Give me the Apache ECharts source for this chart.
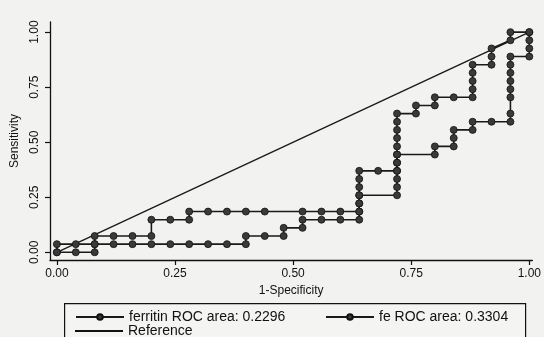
<!DOCTYPE html>
<html>
<head>
<meta charset="utf-8">
<script src="https://cdn.jsdelivr.net/npm/echarts@6/dist/echarts.min.js"></script>
<style>
html,body{margin:0;padding:0;background:#f2f2f0;}
#c{width:544px;height:337px;}
</style>
</head>
<body>
<div id="c"></div>
<script>
// Tick values
const xTicks = [0, 0.25, 0.5, 0.75, 1];
const yTicks = [0, 0.25, 0.5, 0.75, 1];

// ferritin ROC curve (1-Specificity, Sensitivity)
const ferritinX = [0,0,0.04,0.08,0.12,0.16,0.20,0.24,0.28,0.32,0.36,0.40,
  0.40,0.44,0.48, 0.48,0.52, 0.52,0.56,0.60,0.64,
  0.64,0.64,0.64,0.64,0.64,0.64, 0.68,0.72, 0.72,0.72, 0.80,0.80,
  0.84,0.84,0.84, 0.88,0.88, 0.92,0.96,
  0.96,0.96,0.96,0.96,0.96,0.96,0.96, 1,1,1,1];
const ferritinY = [0,0.037,0.037,0.037,0.037,0.037,0.037,0.037,0.037,0.037,0.037,0.037,
  0.074,0.074,0.074, 0.111,0.111, 0.148,0.148,0.148,0.148,
  0.185,0.222,0.259,0.296,0.333,0.370, 0.370,0.370, 0.407,0.444, 0.444,0.481,
  0.481,0.519,0.556, 0.556,0.593, 0.593,0.593,
  0.630,0.704,0.741,0.778,0.815,0.852,0.889, 0.889,0.926,0.963,1];

// fe ROC curve
const feX = [0,0.04,0.08, 0.08,0.08, 0.12,0.16,0.20, 0.20,0.24,0.28,
  0.28,0.32,0.36,0.40,0.44,0.52,0.56,0.60,0.64, 0.64,0.64,
  0.72,0.72,0.72,0.72,0.72,0.72,0.72,0.72,0.72,0.72,0.72,
  0.76,0.76, 0.80,0.80, 0.84,0.88, 0.88,0.88,0.88,0.88,
  0.92,0.92,0.92, 0.96,0.96, 1];
const feY = [0,0,0, 0.037,0.074, 0.074,0.074,0.074, 0.148,0.148,0.148,
  0.185,0.185,0.185,0.185,0.185,0.185,0.185,0.185,0.185, 0.222,0.259,
  0.259,0.296,0.333,0.370,0.407,0.444,0.481,0.519,0.556,0.593,0.630,
  0.630,0.667, 0.667,0.704, 0.704,0.704, 0.741,0.778,0.815,0.852,
  0.852,0.889,0.926, 0.963,1, 1];

// Reference diagonal
const refX = [0, 1];
const refY = [0, 1];

const zip = (a, b) => a.map((v, i) => [v, b[i]]);

const chart = echarts.init(document.getElementById('c'), null, {renderer: 'canvas'});
const font = 'Liberation Sans, Arial, sans-serif';
const lineCol = '#1a1a1a';
const markStyle = {color: '#3a3a3a', borderColor: '#111', borderWidth: 0.8};
const legText = {fontSize: 14, fontFamily: font, color: '#111'};

chart.setOption({
  backgroundColor: '#f2f2f0',
  animation: false,
  textStyle: {fontFamily: font, color: '#111'},
  grid: {left: 50, top: 22, width: 488, height: 238, containLabel: false},
  xAxis: {
    type: 'value', min: -0.0146, max: 1.0063,
    name: '1-Specificity', nameLocation: 'middle', nameGap: 22,
    nameTextStyle: {fontSize: 12, fontFamily: font, color: '#111'},
    axisLine: {show: true, onZero: false, lineStyle: {color: '#111', width: 1.3}},
    axisTick: {show: true, length: 5, customValues: xTicks, lineStyle: {color: '#111', width: 1.2}},
    axisLabel: {customValues: xTicks, fontSize: 12, fontFamily: font, color: '#111', margin: 8,
      formatter: v => v.toFixed(2)},
    splitLine: {show: false}
  },
  yAxis: {
    type: 'value', min: -0.035, max: 1.046,
    name: 'Sensitivity', nameLocation: 'middle', nameGap: 22,
    nameTextStyle: {fontSize: 12, fontFamily: font, color: '#111'},
    axisLine: {show: true, onZero: false, lineStyle: {color: '#111', width: 1.3}},
    axisTick: {show: true, length: 5, customValues: yTicks, lineStyle: {color: '#111', width: 1.2}},
    axisLabel: {customValues: yTicks, fontSize: 12, fontFamily: font, color: '#111', margin: 9,
      rotate: 90, formatter: v => v.toFixed(2)},
    splitLine: {show: false}
  },
  legend: [
    {data: ['ferritin ROC area: 0.2296'], left: 70, top: 305, itemWidth: 48, itemHeight: 7,
      itemGap: 0, textStyle: legText},
    {data: ['fe ROC area: 0.3304'], left: 320, top: 305, itemWidth: 48, itemHeight: 7,
      textStyle: legText},
    {data: [{name: 'Reference', icon: 'rect'}], left: 70, top: 319, itemWidth: 48, itemHeight: 2,
      itemStyle: {color: '#111', borderWidth: 0}, textStyle: legText}
  ],
  graphic: [{
    type: 'rect', left: 64, top: 303, shape: {width: 461, height: 40},
    style: {fill: '#f4f4f2', stroke: '#111', lineWidth: 1.2}, z: -1, silent: true
  }],
  series: [
    {name: 'Reference', type: 'line', data: zip(refX, refY), symbol: 'none',
      lineStyle: {color: lineCol, width: 1.4}, itemStyle: {color: lineCol}, z: 1},
    {name: 'ferritin ROC area: 0.2296', type: 'line', data: zip(ferritinX, ferritinY),
      symbol: 'circle', symbolSize: 7, showAllSymbol: true,
      lineStyle: {color: lineCol, width: 1.6}, itemStyle: markStyle, z: 3},
    {name: 'fe ROC area: 0.3304', type: 'line', data: zip(feX, feY),
      symbol: 'circle', symbolSize: 7, showAllSymbol: true,
      lineStyle: {color: lineCol, width: 1.6}, itemStyle: markStyle, z: 3}
  ]
});
</script>
</body>
</html>
